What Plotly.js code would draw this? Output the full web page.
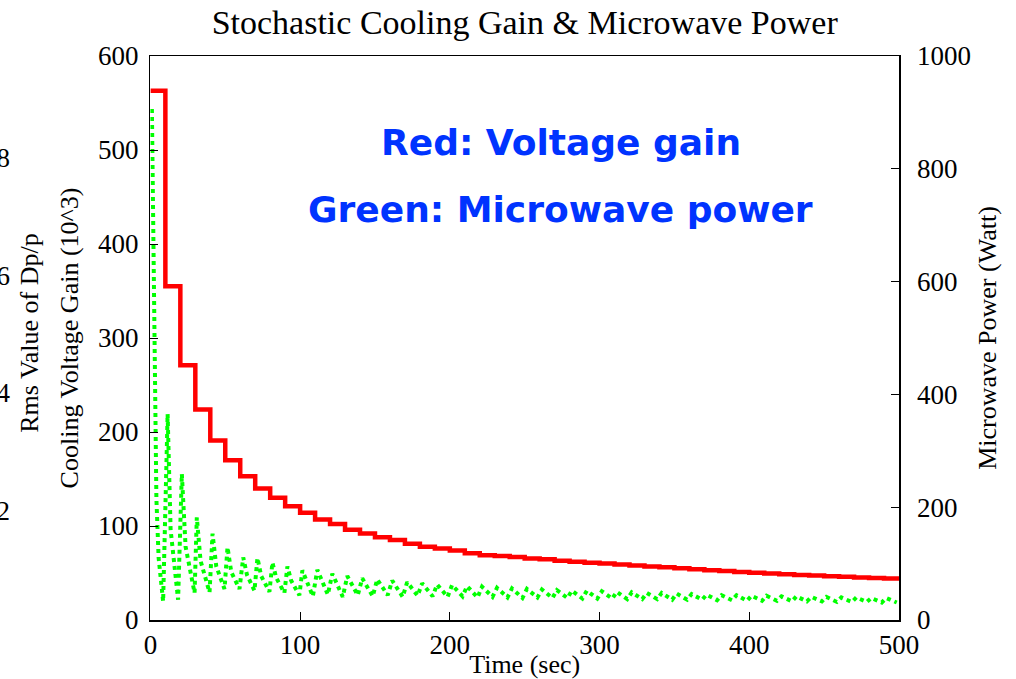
<!DOCTYPE html>
<html>
<head>
<meta charset="utf-8">
<script src="https://cdn.plot.ly/plotly-3.0.1.min.js"></script>
<style>html,body{margin:0;padding:0;background:#fff;}#chart{width:1016px;height:679px;}</style>
</head>
<body>
<div id="chart"></div>
<script>
// Red: cooling voltage gain (10^3), step function, left axis
const redTime = [0,10,20,30,40,50,60,70,80,90,100,110,120,130,140,150,160,170,180,190,200,210,220,230,240,250,260,270,280,290,300,310,320,330,340,350,360,370,380,390,400,410,420,430,440,450,460,470,480,490,500];
const redGain = [563,355,271,224,191,170,153,140,130,121,114,107,102,96,92,88,85,81,78,76,74,71,69,68,67,65.5,64.5,63,62,61,60,59,58,57,56,55,54,53,52,51,50.3,49.5,48.8,48,47.3,46.6,46,45.3,44.7,44.2,44.2];

// Green: microwave power (Watt), right axis
const greenTime = [1,3,4,5.5,8.5,
  11.5,13.5,18.5, 21,23.5,29.5, 31,33.5,39.5, 41.5,44,49.5, 51.5,54,59.5, 62,64.5,69.5, 71.5,74,79.5, 81.5,84,89.5, 91.5,94,99.5,
  101.5,108.5, 111.5,118.5, 121.5,128.5, 131.5,138.5, 141.5,148.5, 151.5,158.5, 161.5,168.5, 171.5,178.5, 181.5,188.5, 191.5,198.5,
  201.5,208.5, 211.5,218.5, 221.5,228.5, 231.5,238.5, 241.5,248.5, 251.5,258.5, 261.5,268.5, 271.5,278.5, 281.5,288.5, 291.5,298.5,
  301.5,308.5, 311.5,318.5, 321.5,328.5, 331.5,338.5, 341.5,348.5, 351.5,358.5, 361.5,368.5, 371.5,378.5, 381.5,388.5, 391.5,398.5,
  401.5,408.5, 411.5,418.5, 421.5,428.5, 431.5,438.5, 441.5,448.5, 451.5,458.5, 461.5,468.5, 471.5,478.5, 481.5,488.5, 491.5,498.5];
const greenPower = [906,420,215,110,33,
  365,160,36, 259,130,48, 182,105,49, 153,95,55, 129,85,55, 111,80,52, 110,78,50, 102,75,48, 95,70,44,
  88,42, 89,45, 82,41, 78,44, 74,42, 72,44, 70,41, 67,43, 65,42, 63,41,
  62,42, 60,40, 59,41, 57,40, 56,39, 55,40, 54,39, 53,39, 52,38, 52,38,
  51,38, 50,37, 49,37, 48,37, 48,36, 47,36, 46,36, 45,35, 44,35, 44,34,
  43,34, 43,34, 42,33, 42,33, 41,33, 41,32, 40,32, 40,32, 39,31, 39,31];

const xTicks = [0,100,200,300,400,500];
const leftTicks = [0,100,200,300,400,500,600];
const rightTicks = [0,200,400,600,800,1000];
const rmsTicks = [2,4,6,8];

const serif = 'Liberation Serif, Times New Roman, serif';
const W = 1016;
const plotL = 150.4, plotR = 899;

const traces = [
  {x: redTime, y: redGain, type: 'scatter', mode: 'lines', line: {shape: 'hv', color: '#ff0000', width: 4.5}, yaxis: 'y', showlegend: false, hoverinfo: 'skip'},
  {x: greenTime, y: greenPower, type: 'scatter', mode: 'lines', line: {color: '#00ff00', width: 4, dash: 'dot'}, yaxis: 'y2', showlegend: false, hoverinfo: 'skip'},
  {x: [null], y: [null], type: 'scatter', mode: 'lines', yaxis: 'y3', showlegend: false, hoverinfo: 'skip'}
];

const axCommon = {showgrid: false, zeroline: false, showline: true, linecolor: '#000', linewidth: 1.5,
  ticks: 'inside', ticklen: 8, tickwidth: 1, tickcolor: '#000', tickfont: {family: serif, size: 27, color: '#000'}};

const layout = {
  width: 1016, height: 679,
  margin: {l: 0, r: 0, t: 56, b: 59, pad: 0},
  paper_bgcolor: '#fff', plot_bgcolor: '#fff',
  title: {text: 'Stochastic Cooling Gain &amp; Microwave Power', font: {family: serif, size: 34, color: '#000'},
    x: ((plotL + plotR) / 2) / W, xanchor: 'center', xref: 'paper', y: 1 - 22 / 679, yref: 'container', yanchor: 'middle'},
  xaxis: Object.assign({}, axCommon, {domain: [plotL / W, plotR / W], range: [0, 500], tickvals: xTicks, mirror: true,
    title: {text: 'Time (sec)', font: {family: serif, size: 26, color: '#000'}, standoff: 0}}),
  yaxis: Object.assign({}, axCommon, {range: [0, 600], tickvals: leftTicks, ticklabelstandoff: 5,
    title: {text: 'Cooling Voltage Gain (10^3)', font: {family: serif, size: 26, color: '#000'}, standoff: 12}}),
  yaxis2: Object.assign({}, axCommon, {overlaying: 'y', side: 'right', anchor: 'x', range: [0, 1000], tickvals: rightTicks,
    ticklabelstandoff: 11,
    title: {text: 'Microwave Power (Watt)', font: {family: serif, size: 26, color: '#000'}, standoff: 8}}),
  yaxis3: {overlaying: 'y', anchor: 'free', position: 10 / W, side: 'left', range: [0.14, 9.73], tickvals: rmsTicks,
    showline: false, ticks: '', showgrid: false, zeroline: false, tickfont: {family: serif, size: 27, color: '#000'}},
  annotations: [
    {text: 'Rms Value of Dp/p', xref: 'paper', yref: 'paper', x: 30 / W, y: (620.2 - 333) / 564, textangle: -90,
      showarrow: false, font: {family: serif, size: 26, color: '#000'}, xanchor: 'center', yanchor: 'middle'},
    {text: '<b>Red: Voltage gain</b>', xref: 'paper', yref: 'paper', x: 561 / W, y: (620.2 - 143) / 564,
      showarrow: false, font: {family: 'Comic Sans MS, DejaVu Sans, sans-serif', size: 36, color: '#0033ff'}, xanchor: 'center', yanchor: 'middle'},
    {text: '<b>Green: Microwave power</b>', xref: 'paper', yref: 'paper', x: 560 / W, y: (620.2 - 210) / 564,
      showarrow: false, font: {family: 'Comic Sans MS, DejaVu Sans, sans-serif', size: 36, color: '#0033ff'}, xanchor: 'center', yanchor: 'middle'}
  ]
};

Plotly.newPlot('chart', traces, layout, {displayModeBar: false, staticPlot: true});
</script>
</body>
</html>
